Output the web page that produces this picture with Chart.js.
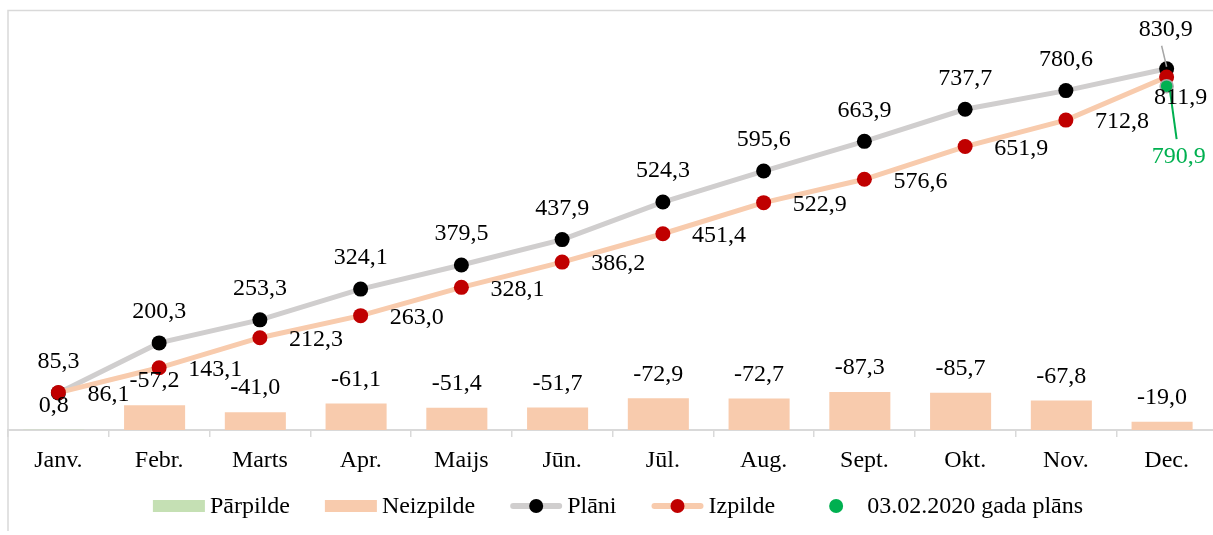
<!DOCTYPE html>
<html><head><meta charset="utf-8">
<script src="https://cdn.jsdelivr.net/npm/chart.js@4"></script>
<style>
html,body{margin:0;padding:0;background:#fff;overflow:hidden;}
#wrap{position:relative;width:1213px;height:535px;overflow:hidden;background:#fff;}
#wrap canvas{position:absolute;left:0;top:0;}
</style></head><body>
<div id="wrap"><canvas id="c" width="1225" height="535"></canvas></div>
<script>
const categories = ['Janv.','Febr.','Marts','Apr.','Maijs','Jūn.','Jūl.','Aug.','Sept.','Okt.','Nov.','Dec.'];
const plani = [85.3,200.3,253.3,324.1,379.5,437.9,524.3,595.6,663.9,737.7,780.6,830.9];
const izpilde = [86.1,143.1,212.3,263.0,328.1,386.2,451.4,522.9,576.6,651.9,712.8,811.9];
const neizpilde = [null,-57.2,-41.0,-61.1,-51.4,-51.7,-72.9,-72.7,-87.3,-85.7,-67.8,-19.0];
const parpilde = [0.8,null,null,null,null,null,null,null,null,null,null,null];
const plans2020 = [null,null,null,null,null,null,null,null,null,null,null,790.9];

const FAMILY = '"Liberation Serif","Times New Roman",serif';
const FSIZE = 24;
const FONT = FSIZE + 'px ' + FAMILY;
const fmt = v => v.toFixed(1).replace('.', ',');
// bar heights are the magnitudes; bars sit on a hidden index axis (category index -> x)
const barPoints = a => a.map((v, i) => v == null ? null : { x: i, y: Math.abs(v) }).filter(p => p);
const barRaw = a => a.filter(v => v != null);

const labelPlugin = {
  id: 'customLabels',
  afterDatasetsDraw(chart) {
    const ctx = chart.ctx;
    ctx.save();
    ctx.font = FONT;
    ctx.textBaseline = 'middle';
    const n = categories.length;
    chart.data.datasets.forEach((ds, di) => {
      const meta = chart.getDatasetMeta(di);
      meta.data.forEach((el, i) => {
        const raw = ds.rawValues[i];
        if (raw == null) return;
        const txt = fmt(raw);
        const last = i === n - 1;
        ctx.fillStyle = '#000';
        ctx.textAlign = 'center';
        if (ds.labelKind === 'bar') {
          ctx.fillText(txt, el.x, el.y - 24);
        } else if (ds.labelKind === 'plan') {
          if (last) {
            ctx.strokeStyle = '#a6a6a6'; ctx.lineWidth = 1.5;
            ctx.beginPath(); ctx.moveTo(el.x - 5, el.y - 23); ctx.lineTo(el.x, el.y - 2); ctx.stroke();
            ctx.fillText(txt, el.x - 1, el.y - 39);
          } else {
            ctx.fillText(txt, el.x, el.y - 31);
          }
        } else if (ds.labelKind === 'izp') {
          if (last) {
            ctx.fillText(txt, el.x + 14, el.y + 21);
          } else {
            ctx.textAlign = 'left';
            ctx.fillText(txt, el.x + 29, el.y + 2);
          }
        } else if (ds.labelKind === 'green') {
          ctx.strokeStyle = '#00b050'; ctx.lineWidth = 2;
          ctx.beginPath(); ctx.moveTo(el.x + 3, el.y + 2); ctx.lineTo(el.x + 10, el.y + 53); ctx.stroke();
          ctx.fillStyle = '#00b050';
          ctx.fillText(txt, el.x + 12, el.y + 71);
        }
      });
    });
    ctx.restore();
  },
  afterDraw(chart) {
    const ctx = chart.ctx;
    ctx.save();
    ctx.strokeStyle = '#d9d9d9'; ctx.lineWidth = 1.5;
    ctx.beginPath(); ctx.moveTo(8, 531); ctx.lineTo(8, 10.5); ctx.lineTo(1225, 10.5); ctx.stroke();
    ctx.font = FONT; ctx.textBaseline = 'middle'; ctx.textAlign = 'left';
    const items = chart.data.datasets.map(ds => ds.legendItem).sort((a, b) => a.pos - b.pos);
    const symW = 52, gapST = 5, gapItem = 35, y = 506;
    const widths = items.map(it => symW + gapST + ctx.measureText(it.text).width);
    const total = widths.reduce((a, b) => a + b, 0) + gapItem * (items.length - 1);
    let x = 618 - total / 2;
    items.forEach((it, k) => {
      if (it.type === 'box') {
        ctx.fillStyle = it.color; ctx.fillRect(x, y - 6, symW, 12);
      } else if (it.type === 'line') {
        ctx.strokeStyle = it.color; ctx.lineWidth = 6; ctx.lineCap = 'round';
        ctx.beginPath(); ctx.moveTo(x + 3, y); ctx.lineTo(x + symW - 3, y); ctx.stroke();
        ctx.fillStyle = it.dot; ctx.beginPath(); ctx.arc(x + symW / 2, y, 7, 0, Math.PI * 2); ctx.fill();
      } else {
        ctx.fillStyle = it.dot; ctx.beginPath(); ctx.arc(x + symW / 2, y, 7, 0, Math.PI * 2); ctx.fill();
      }
      ctx.fillStyle = '#000';
      ctx.fillText(it.text, x + symW + gapST, y + 1);
      x += widths[k] + gapItem;
    });
    ctx.restore();
  }
};

new Chart(document.getElementById('c'), {
  data: {
    labels: categories,
    datasets: [
      { type: 'line', label: '03.02.2020 gada plāns', data: plans2020, rawValues: plans2020, labelKind: 'green',
        xAxisID: 'x', showLine: false, pointRadius: 6.5, pointBackgroundColor: '#00b050', pointBorderColor: '#a6a6a6', pointBorderWidth: 1.5,
        order: 1, legendItem: { pos: 5, type: 'dot', dot: '#00b050', text: '03.02.2020 gada plāns' } },
      { type: 'line', label: 'Izpilde', data: izpilde, rawValues: izpilde, labelKind: 'izp',
        xAxisID: 'x', borderColor: '#f8cbad', borderWidth: 5, pointRadius: 7.5, pointBackgroundColor: '#c00000', pointBorderWidth: 0,
        tension: 0, order: 2, legendItem: { pos: 4, type: 'line', color: '#f8cbad', dot: '#c00000', text: 'Izpilde' } },
      { type: 'line', label: 'Plāni', data: plani, rawValues: plani, labelKind: 'plan',
        xAxisID: 'x', borderColor: '#d0cece', borderWidth: 5, pointRadius: 7.5, pointBackgroundColor: '#000', pointBorderWidth: 0,
        tension: 0, order: 3, legendItem: { pos: 3, type: 'line', color: '#d0cece', dot: '#000', text: 'Plāni' } },
      { type: 'bar', label: 'Neizpilde', data: barPoints(neizpilde), rawValues: barRaw(neizpilde), labelKind: 'bar',
        xAxisID: 'xb', grouped: false, backgroundColor: '#f8cbad', barPercentage: 0.606, categoryPercentage: 1, order: 10,
        legendItem: { pos: 2, type: 'box', color: '#f8cbad', text: 'Neizpilde' } },
      { type: 'bar', label: 'Pārpilde', data: barPoints(parpilde), rawValues: barRaw(parpilde), labelKind: 'bar',
        xAxisID: 'xb', grouped: false, backgroundColor: '#c5e0b4', barPercentage: 0.606, categoryPercentage: 1, order: 11,
        legendItem: { pos: 1, type: 'box', color: '#c5e0b4', text: 'Pārpilde' } }
    ]
  },
  options: {
    responsive: false,
    animation: false,
    devicePixelRatio: 1,
    layout: { padding: { left: 8, right: 4, top: 10, bottom: 50 } },
    plugins: { legend: { display: false }, tooltip: { enabled: false } },
    scales: {
      x: {
        type: 'category', position: 'bottom', offset: true,
        grid: { offset: true, drawOnChartArea: false, drawTicks: true, tickLength: 7, color: '#d9d9d9', lineWidth: 1.5 },
        border: { display: true, color: '#d9d9d9', width: 2 },
        ticks: { font: { family: FAMILY, size: FSIZE }, color: '#000', padding: 9, maxRotation: 0, autoSkip: false },
        afterFit(s) { s.height = 55; }
      },
      xb: { type: 'linear', display: false, offset: false, min: -0.455, max: 11.545 },
      y: { display: false, min: 0, max: 966, stacked: false }
    }
  },
  plugins: [labelPlugin]
});
</script>
</body></html>
